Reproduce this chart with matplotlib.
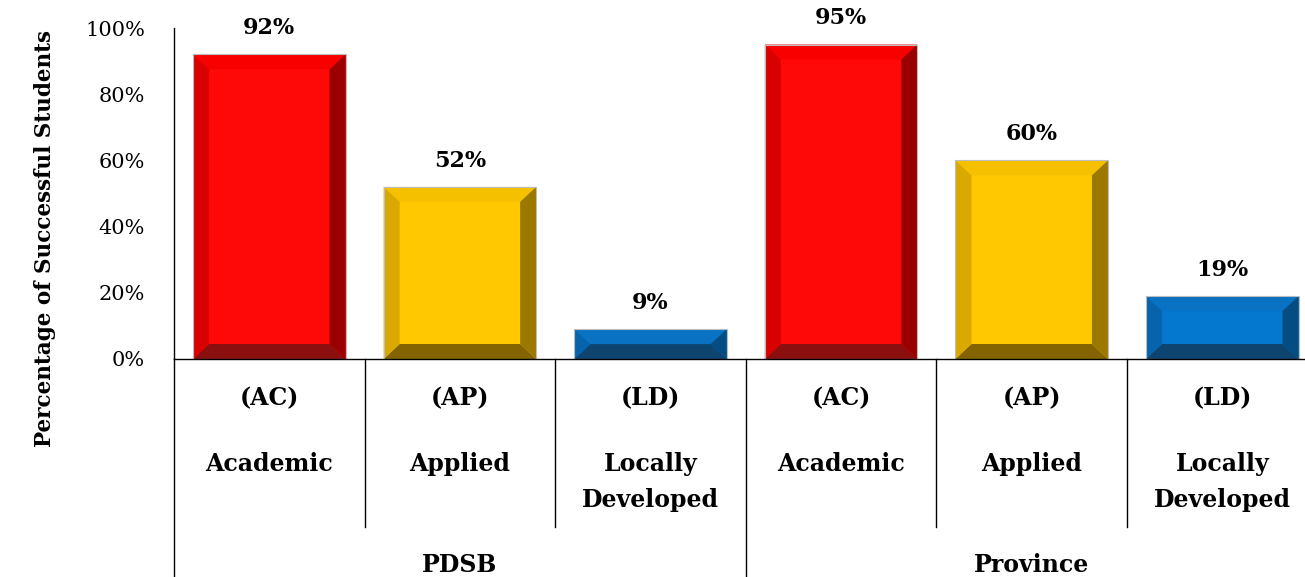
import matplotlib
matplotlib.use("Agg")
import matplotlib.pyplot as plt
from matplotlib.patches import Polygon
import matplotlib.transforms as mtransforms

# ---- data ----
groups = ['PDSB', 'Province']
codes = ['(AC)', '(AP)', '(LD)']
names = [['Academic'], ['Applied'], ['Locally', 'Developed']]
values = [92, 52, 9, 95, 60, 19]
yticks = [0, 20, 40, 60, 80, 100]
ytick_labels = ['0%', '20%', '40%', '60%', '80%', '100%']
ylabel = 'Percentage of Successful Students'

# colours per course type: main, top, left, right, bottom bevels
palette = [
    ['#FF0808', '#F80000', '#D90000', '#990000', '#8C0F0F'],
    ['#FFC800', '#F5C000', '#D9A900', '#9B7800', '#836400'],
    ['#0477CF', '#0A72C2', '#0664AD', '#054C80', '#0E4470'],
]

W, H = 1305, 577
fig = plt.figure(figsize=(W / 100, H / 100), dpi=100)
ax_left, ax_bottom_px, ax_top_px = 174, 359, 28
slot_px = 190.6
ax_h_px = ax_bottom_px - ax_top_px
ax = fig.add_axes([ax_left / W, 1 - ax_bottom_px / H, 6 * slot_px / W, ax_h_px / H])

serif = ['DejaVu Serif']
n = len(values)
xs = list(range(n))
cols = [palette[i % 3][0] for i in range(n)]
bars = ax.bar(xs, values, width=0.8, color=cols, zorder=2)

# bevel sizes (pixels -> data units)
bev_x = 16 / slot_px
bev_y_full = 15 / ax_h_px * 100
for i, b in enumerate(bars):
    x0 = b.get_x(); x1 = x0 + b.get_width()
    y0 = b.get_y(); y1 = y0 + b.get_height()
    dy = min(bev_y_full, (y1 - y0) / 2)
    xi0, xi1 = x0 + bev_x, x1 - bev_x
    yi0, yi1 = y0 + dy, y1 - dy
    c = palette[i % 3]
    polys = [
        ([(x0, y1), (x1, y1), (xi1, yi1), (xi0, yi1)], c[1]),
        ([(x0, y0), (x1, y0), (xi1, yi0), (xi0, yi0)], c[4]),
        ([(x0, y0), (xi0, yi0), (xi0, yi1), (x0, y1)], c[2]),
        ([(x1, y0), (x1, y1), (xi1, yi1), (xi1, yi0)], c[3]),
    ]
    for pts, col in polys:
        ax.add_patch(Polygon(pts, closed=True, facecolor=col, edgecolor='none', zorder=3))
    ax.add_patch(Polygon([(x0, y0), (x0, y1), (x1, y1), (x1, y0)], closed=True,
                         facecolor='none', edgecolor='#BDBDBD', lw=0.8, zorder=4))
    ax.annotate(f'{values[i]}%', (b.get_x() + b.get_width() / 2, y1),
                xytext=(0, 11), textcoords='offset points', ha='center', va='bottom',
                fontsize=16, fontweight='bold', family=serif, annotation_clip=False)

ax.set_xlim(-0.5, n - 0.5)
ax.set_ylim(0, 100)
ax.set_yticks(yticks)
ax.set_yticklabels(ytick_labels, family=serif, fontsize=15)
ax.tick_params(axis='y', length=0, pad=21)
ax.set_xticks([])
for s in ['top', 'right']:
    ax.spines[s].set_visible(False)
ax.spines['left'].set_linewidth(1.0)
ax.spines['bottom'].set_linewidth(1.0)
ax.spines['bottom'].set_zorder(5)

trans = mtransforms.blended_transform_factory(ax.transData, ax.transAxes)
def fy(px):
    return -(px - ax_bottom_px) / ax_h_px

# separators
for g in range(len(groups) + 1):
    xb = -0.5 + 3 * g
    ax.plot([xb, xb], [0, fy(600)], transform=trans, color='black', lw=1.0, clip_on=False)
for g in range(len(groups)):
    for k in (1, 2):
        xb = -0.5 + 3 * g + k
        ax.plot([xb, xb], [0, fy(527)], transform=trans, color='black', lw=1.0, clip_on=False)

# category labels
for i in range(n):
    ax.text(i, fy(398), codes[i % 3], transform=trans, ha='center', va='center',
            fontsize=17, fontweight='bold', family=serif)
    for j, line in enumerate(names[i % 3]):
        ax.text(i, fy(464 + 36 * j), line, transform=trans, ha='center', va='center',
                fontsize=17, fontweight='bold', family=serif)
for g, name in enumerate(groups):
    ax.text(3 * g + 1, fy(565), name, transform=trans, ha='center', va='center',
            fontsize=17, fontweight='bold', family=serif)

fig.text(45 / W, 1 - 238 / H, ylabel, rotation=90, ha='center', va='center',
         fontsize=15.5, fontweight='bold', family=serif)

fig.savefig('out.png', dpi=100)
